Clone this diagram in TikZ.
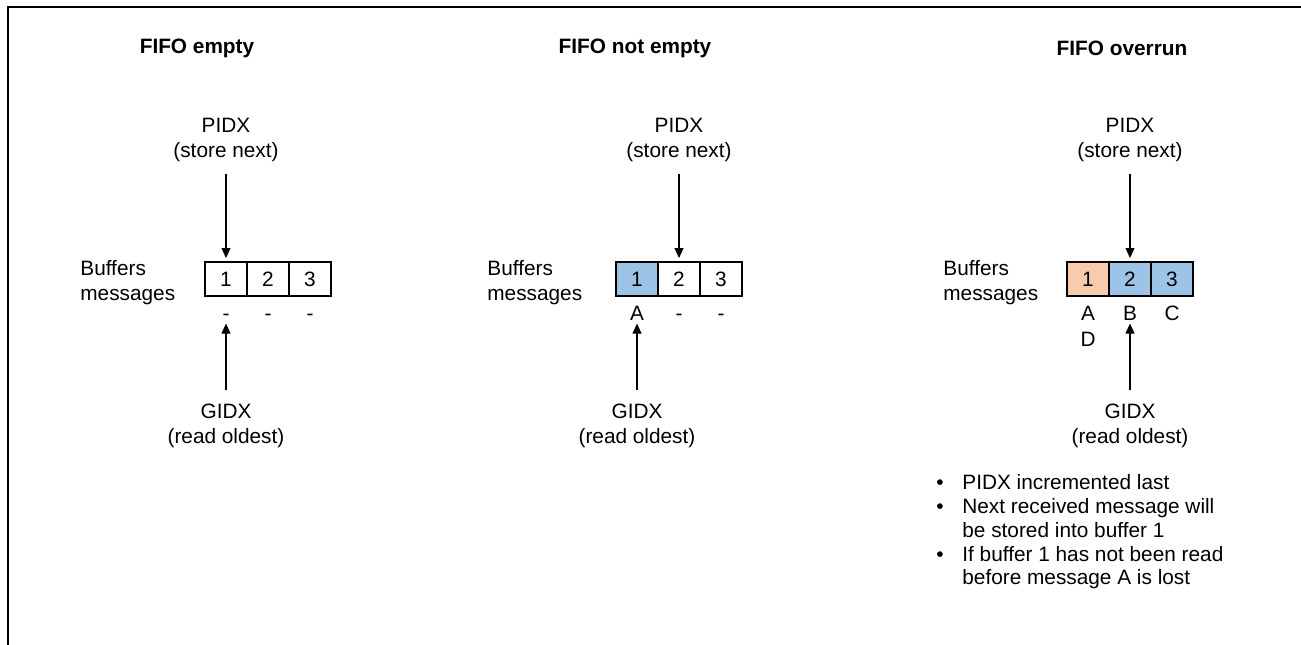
\documentclass[tikz,border=0pt]{standalone}
\usepackage{fontspec}
\setmainfont{Liberation Sans}
\usetikzlibrary{arrows.meta,positioning}
\definecolor{fullBlue}{HTML}{9DC3E6}
\definecolor{lostOrange}{HTML}{F8CBAD}
\newcommand{\bul}{\makebox[13pt][l]{\textbullet}}
\newcommand{\cont}{\hspace*{13pt}}
\tikzset{
  txt/.style={font=\fontsize{10.4}{12.5}\selectfont, inner sep=0pt, align=center},
  title/.style={txt, font=\fontsize{10.4}{12.5}\selectfont\bfseries},
  cell/.style={draw=black, line width=1pt, minimum width=21pt, minimum height=17pt,
    inner sep=0pt, outer sep=0pt, font=\fontsize{10.4}{12.5}\selectfont},
  fullcell/.style={cell, fill=fullBlue},
  lostcell/.style={cell, fill=lostOrange},
  msg/.style={txt, text height=7.4pt, text depth=0pt},
  ptr/.style={-{Triangle[length=5pt,width=4.5pt]}, line width=0.6pt},
  frame/.style={line width=1pt}
}

\begin{document}
\begin{tikzpicture}[x=0.5pt, y=-0.5pt]
  \useasboundingbox (0,0) rectangle (1301,644);
  \draw[frame] (8,660) -- (8,7) -- (1320,7);

  % FIFO empty
  \node[title] (t1) at (197,48) {FIFO empty};
  \node[cell] (c11) at (226,279) {1};
  \node[cell, right=0pt of c11] (c12) {2};
  \node[cell, right=0pt of c12] (c13) {3};
  \node[txt, align=left, anchor=west] (buf1) at (80,283) {Buffers\\messages};
  \node[msg, below=4.5pt of c11] (m11) {-};
  \node[msg, below=4.5pt of c12] (m12) {-};
  \node[msg, below=4.5pt of c13] (m13) {-};
  \node[txt] (pidx1) at (c11.center |- 0,140) {PIDX\\(store next)};
  \node[txt] (gidx1) at (c11.center |- 0,426) {GIDX\\(read oldest)};
  \draw[ptr, shorten <=6pt, shorten >=2pt] (pidx1) -- (c11);
  \draw[ptr, shorten <=7pt, shorten >=1.5pt] (gidx1) -- (m11);

  % FIFO not empty
  \node[title] (t2) at (635,48) {FIFO not empty};
  \node[fullcell] (c21) at (637,279) {1};
  \node[cell, right=0pt of c21] (c22) {2};
  \node[cell, right=0pt of c22] (c23) {3};
  \node[txt, align=left, anchor=west] (buf2) at (487,283) {Buffers\\messages};
  \node[msg, below=4.5pt of c21] (m21) {A};
  \node[msg, below=4.5pt of c22] (m22) {-};
  \node[msg, below=4.5pt of c23] (m23) {-};
  \node[txt] (pidx2) at (c22.center |- 0,140) {PIDX\\(store next)};
  \node[txt] (gidx2) at (c21.center |- 0,426) {GIDX\\(read oldest)};
  \draw[ptr, shorten <=6pt, shorten >=2pt] (pidx2) -- (c22);
  \draw[ptr, shorten <=7pt, shorten >=1.5pt] (gidx2) -- (m21);

  % FIFO overrun
  \node[title] (t3) at (1122,48) {FIFO overrun};
  \node[lostcell] (c31) at (1088,279) {1};
  \node[fullcell, right=0pt of c31] (c32) {2};
  \node[fullcell, right=0pt of c32] (c33) {3};
  \node[txt, align=left, anchor=west] (buf3) at (943,283) {Buffers\\messages};
  \node[msg, below=4.5pt of c31] (m31) {A};
  \node[msg, below=4.5pt of c32] (m32) {B};
  \node[msg, below=4.5pt of c33] (m33) {C};
  \node[msg, below=5.5pt of m31] (m34) {D};
  \node[txt] (pidx3) at (c32.center |- 0,140) {PIDX\\(store next)};
  \node[txt] (gidx3) at (c32.center |- 0,426) {GIDX\\(read oldest)};
  \draw[ptr, shorten <=6pt, shorten >=2pt] (pidx3) -- (c32);
  \draw[ptr, shorten <=7pt, shorten >=1.5pt] (gidx3) -- (m32);

  \node[txt, align=left, anchor=west, font=\fontsize{10.4}{11.9}\selectfont] (notes) at (936,532)
    {\bul PIDX incremented last\\
     \bul Next received message will\\
     \cont be stored into buffer 1\\
     \bul If buffer 1 has not been read\\
     \cont before message A is lost};
\end{tikzpicture}
\end{document}
